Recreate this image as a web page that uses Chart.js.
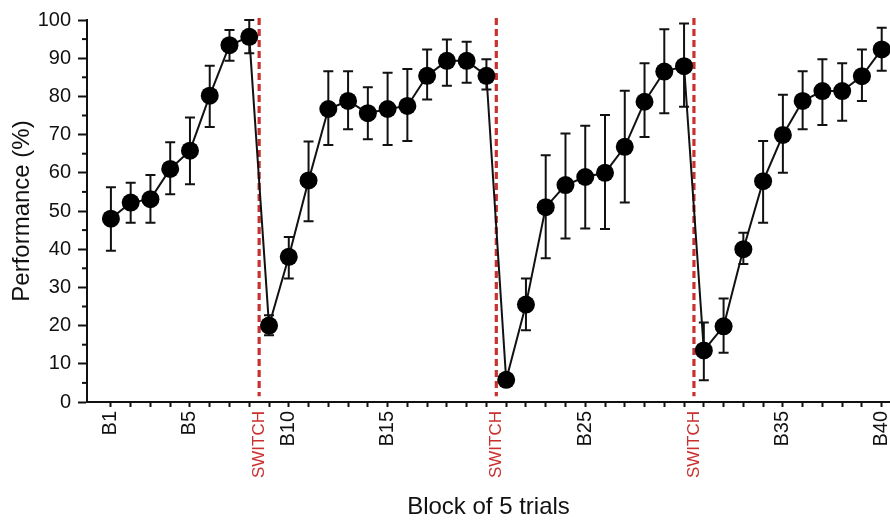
<!DOCTYPE html>
<html>
<head>
<meta charset="utf-8">
<script src="https://cdn.jsdelivr.net/npm/chart.js@4/dist/chart.umd.min.js"></script>
<style>
  html, body { margin: 0; padding: 0; background: #ffffff; }
  #wrap { width: 890px; height: 522px; position: relative; }
</style>
</head>
<body>
<div id="wrap"><canvas id="c" width="890" height="522"></canvas></div>
<script>
// ---- data ----
const blocks = [1,2,3,4,5,6,7,8,9,10,11,12,13,14,15,16,17,18,19,20,21,22,23,24,25,26,27,28,29,30,31,32,33,34,35,36,37,38,39,40];
const performance = [48, 52.2, 53.1, 61, 65.8, 80.2, 93.4, 95.6, 20, 38,
                     58, 76.7, 78.8, 75.6, 76.7, 77.5, 85.4, 89.3, 89.3, 85.4,
                     5.8, 25.5, 51, 56.8, 58.9, 60, 66.8, 78.6, 86.5, 87.9,
                     13.5, 19.8, 40, 57.8, 69.9, 78.8, 81.4, 81.4, 85.3, 92.3];
const errUp   = [8.2, 5.2, 6.3, 7, 8.7, 7.8, 4, 4.4, 2.7, 5.2,
                 10.2, 9.9, 7.8, 6.8, 9.5, 9.7, 6.9, 5.6, 5, 4.3,
                 1.5, 6.8, 13.6, 13.5, 13.4, 15.1, 14.7, 10.1, 11.1, 11.2,
                 7.3, 7.3, 4.3, 10.5, 10.5, 7.8, 8.3, 7.3, 7, 5.7];
const errDown = [8.4, 5.3, 6.2, 6.6, 8.8, 8.2, 4.1, 4.3, 2.5, 5.7,
                 10.7, 9.4, 7.4, 6.8, 9.4, 9.2, 6.2, 6.5, 5.7, 3.6,
                 1.5, 6.7, 13.4, 14, 13.5, 14.7, 14.6, 9.2, 10.9, 10.6,
                 7.8, 6.9, 3.9, 10.9, 9.9, 7.4, 8.9, 7.8, 6.5, 5.6];
const blockTickLabels = {1: 'B1', 5: 'B5', 10: 'B10', 15: 'B15', 25: 'B25', 35: 'B35', 40: 'B40'};
const switchPositions = [8.5, 20.5, 30.5];
const switchLabel = 'SWITCH';
const yTicks = [0,10,20,30,40,50,60,70,80,90,100];
const yMinorTicks = [5,15,25,35,45,55,65,75,85,95];

const RED = '#c8312f';
const FONT = "'Liberation Sans', Arial, sans-serif";

const bgPlugin = {
  id: 'bg',
  beforeDraw(chart) {
    const ctx = chart.ctx;
    ctx.save();
    ctx.fillStyle = '#ffffff';
    ctx.fillRect(0, 0, chart.width, chart.height);
    ctx.restore();
  }
};

const switchLinesPlugin = {
  id: 'switchLines',
  beforeDatasetsDraw(chart) {
    const {ctx, scales: {x, y}} = chart;
    ctx.save();
    ctx.strokeStyle = RED;
    ctx.lineWidth = 3.2;
    ctx.setLineDash([7, 4]);
    switchPositions.forEach(v => {
      const px = x.getPixelForValue(v);
      ctx.beginPath();
      ctx.moveTo(px, y.getPixelForValue(100.5));
      ctx.lineTo(px, y.getPixelForValue(1.5));
      ctx.stroke();
    });
    ctx.restore();
  }
};

const errorBarPlugin = {
  id: 'errorBars',
  beforeDatasetsDraw(chart) {
    const {ctx, scales: {x, y}} = chart;
    ctx.save();
    ctx.strokeStyle = '#111';
    ctx.lineWidth = 2;
    const cap = 5;
    blocks.forEach((b, i) => {
      const px = x.getPixelForValue(b);
      const top = y.getPixelForValue(performance[i] + errUp[i]);
      const bot = y.getPixelForValue(performance[i] - errDown[i]);
      ctx.beginPath();
      ctx.moveTo(px, top); ctx.lineTo(px, bot);
      ctx.moveTo(px - cap, top); ctx.lineTo(px + cap, top);
      ctx.moveTo(px - cap, bot); ctx.lineTo(px + cap, bot);
      ctx.stroke();
    });
    ctx.restore();
  }
};

const minorTickPlugin = {
  id: 'minorTicks',
  afterDraw(chart) {
    const {ctx, scales: {y}} = chart;
    ctx.save();
    ctx.strokeStyle = '#111';
    ctx.lineWidth = 2;
    yMinorTicks.forEach(v => {
      const py = y.getPixelForValue(v);
      ctx.beginPath();
      ctx.moveTo(y.right - 5, py);
      ctx.lineTo(y.right, py);
      ctx.stroke();
    });
    ctx.restore();
  }
};

const isSwitch = v => switchPositions.includes(v);

new Chart(document.getElementById('c'), {
  type: 'line',
  data: {
    datasets: [{
      data: blocks.map((b, i) => ({x: b, y: performance[i]})),
      borderColor: '#111',
      borderWidth: 2,
      pointRadius: 9,
      pointBackgroundColor: '#000',
      pointBorderColor: '#000',
      pointBorderWidth: 0,
      tension: 0
    }]
  },
  options: {
    responsive: false,
    animation: false,
    events: [],
    layout: { autoPadding: false, padding: { top: 20, left: 0, right: 0, bottom: 0 } },
    plugins: { legend: { display: false }, tooltip: { enabled: false } },
    scales: {
      x: {
        type: 'linear',
        min: -0.21,
        max: 40.42,
        afterBuildTicks(scale) {
          const vals = blocks.concat(switchPositions).sort((a, b) => a - b);
          scale.ticks = vals.map(v => ({ value: v }));
        },
        afterFit(scale) {
          scale.height = 120;
          scale.paddingLeft = 0;
          scale.paddingRight = 0;
        },
        border: { display: true, color: '#111', width: 2 },
        grid: {
          drawOnChartArea: false,
          drawTicks: true,
          tickLength: 5,
          tickWidth: 2,
          tickColor: ctx => (ctx.tick && isSwitch(ctx.tick.value)) ? 'rgba(0,0,0,0)' : '#111'
        },
        ticks: {
          autoSkip: false,
          minRotation: 90,
          maxRotation: 90,
          padding: 4,
          color: ctx => (ctx.tick && isSwitch(ctx.tick.value)) ? RED : '#111',
          font: ctx => (ctx.tick && isSwitch(ctx.tick.value)) ? { family: FONT, size: 17 } : { family: FONT, size: 20 },
          callback: v => isSwitch(v) ? switchLabel : (blockTickLabels[v] || '')
        },
        title: {
          display: true,
          text: 'Block of 5 trials',
          color: '#111',
          font: { family: FONT, size: 24 },
          padding: { top: 0, bottom: 0 }
        }
      },
      y: {
        min: 0,
        max: 100,
        afterBuildTicks(scale) {
          scale.ticks = yTicks.map(v => ({ value: v }));
        },
        afterFit(scale) {
          scale.width = 87;
        },
        border: { display: true, color: '#111', width: 2 },
        grid: {
          drawOnChartArea: false,
          drawTicks: true,
          tickLength: 9,
          tickWidth: 2,
          tickColor: '#111'
        },
        ticks: {
          padding: 7,
          color: '#111',
          font: { family: FONT, size: 20 }
        },
        title: {
          display: true,
          text: 'Performance (%)',
          color: '#111',
          font: { family: FONT, size: 24 },
          padding: { top: 8, bottom: 0 }
        }
      }
    }
  },
  plugins: [bgPlugin, switchLinesPlugin, errorBarPlugin, minorTickPlugin]
});
</script>
</body>
</html>
